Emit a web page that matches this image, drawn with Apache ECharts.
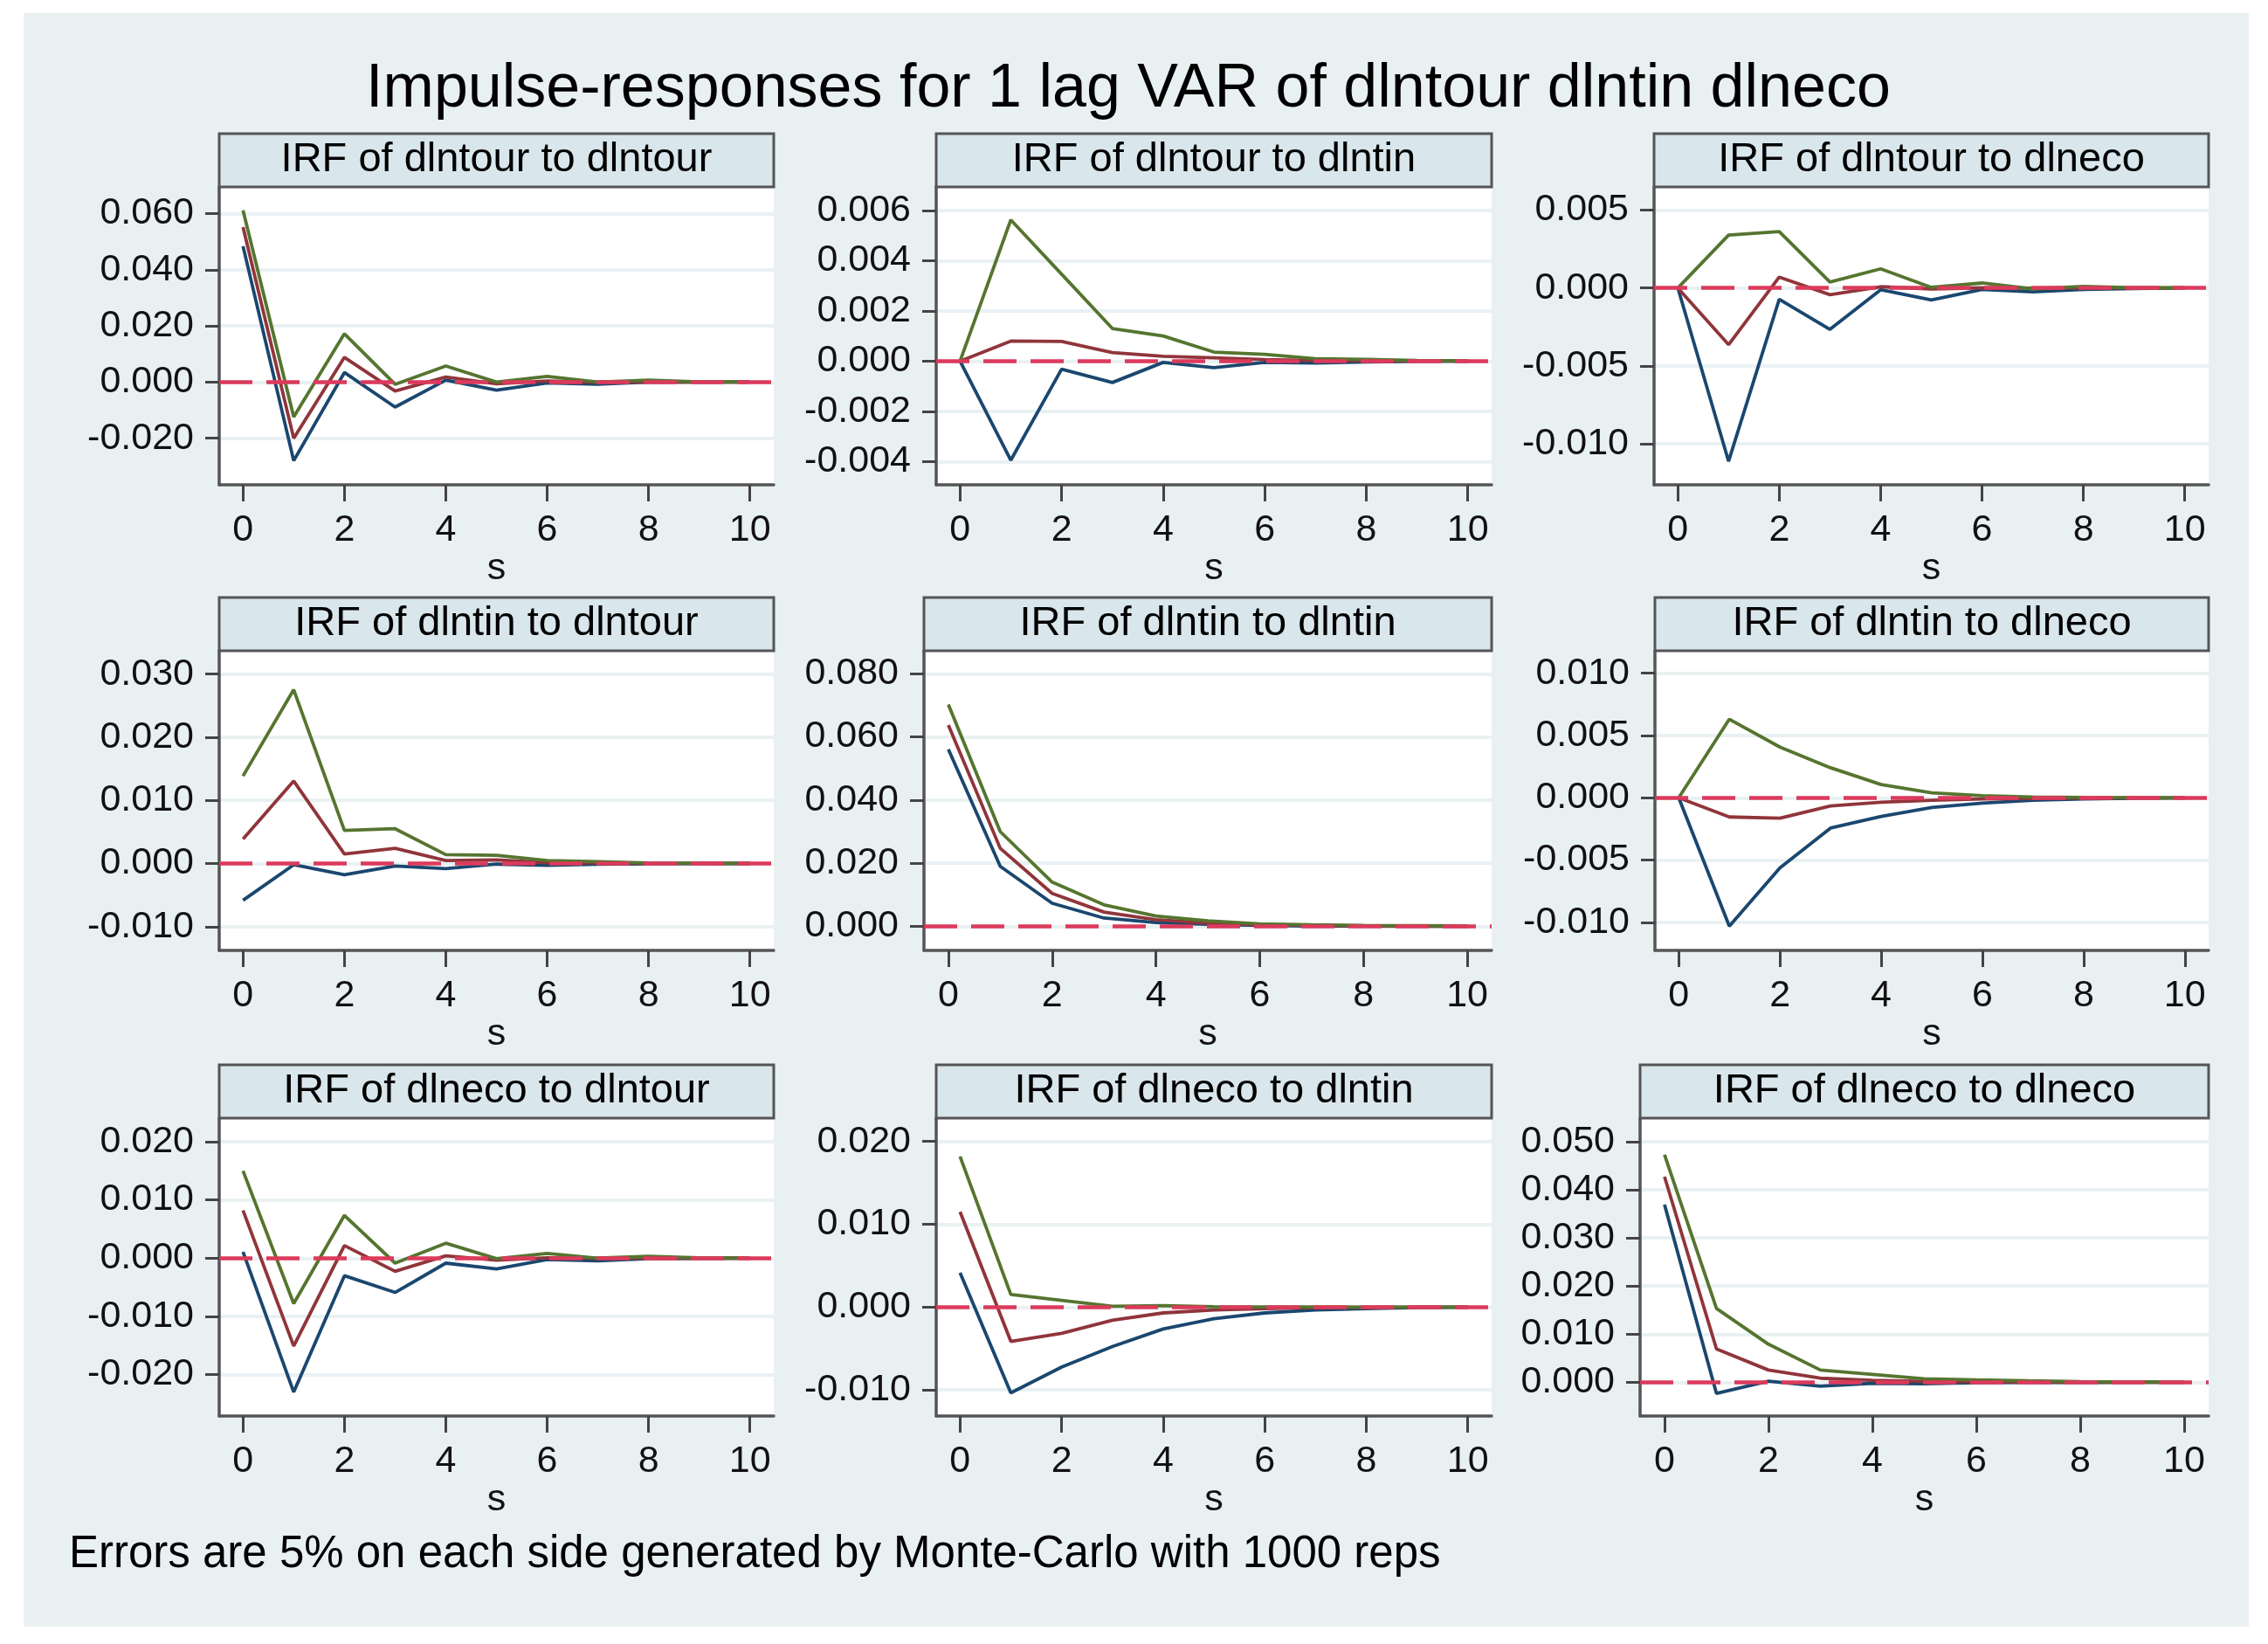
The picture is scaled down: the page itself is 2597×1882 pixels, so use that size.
<!DOCTYPE html>
<html><head><meta charset="utf-8">
<script src="https://cdn.jsdelivr.net/npm/echarts@6/dist/echarts.min.js"></script>
<style>html,body{margin:0;padding:0;background:#fff}#c{width:2597px;height:1882px}</style>
</head><body><div id="c"></div>
<script>
// ---------- data ----------
const steps = [0,1,2,3,4,5,6,7,8,9,10];
const xTicks = [0,2,4,6,8,10];
const mainTitle = 'Impulse-responses for 1 lag VAR of dlntour dlntin dlneco';
const footnote = 'Errors are 5% on each side generated by Monte-Carlo with 1000 reps';
const panelTitles = [
  'IRF of dlntour to dlntour','IRF of dlntour to dlntin','IRF of dlntour to dlneco',
  'IRF of dlntin to dlntour','IRF of dlntin to dlntin','IRF of dlntin to dlneco',
  'IRF of dlneco to dlntour','IRF of dlneco to dlntin','IRF of dlneco to dlneco'
];
// y tick labels per panel
const yTicks1 = [-0.02,0,0.02,0.04,0.06];
const yTicks2 = [-0.004,-0.002,0,0.002,0.004,0.006];
const yTicks3 = [-0.01,-0.005,0,0.005];
const yTicks4 = [-0.01,0,0.01,0.02,0.03];
const yTicks5 = [0,0.02,0.04,0.06,0.08];
const yTicks6 = [-0.01,-0.005,0,0.005,0.01];
const yTicks7 = [-0.02,-0.01,0,0.01,0.02];
const yTicks8 = [-0.01,0,0.01,0.02];
const yTicks9 = [0,0.01,0.02,0.03,0.04,0.05];

// lower bound (blue), irf (red), upper bound (green)
const lo1  = [0.0484,-0.0280,0.0034,-0.0089,0.0007,-0.0029,-0.0003,-0.0008,0.0000,0.0000,0.0000];
const irf1 = [0.0552,-0.0200,0.0088,-0.0032,0.0018,-0.0006,0.0004,-0.0001,0.0001,0.0000,0.0000];
const hi1  = [0.0612,-0.0124,0.0172,-0.0008,0.0057,0.0000,0.0020,0.0000,0.0007,0.0001,0.0001];

const lo2  = [0,-0.00394,-0.00032,-0.00085,-0.00005,-0.00026,-0.00005,-0.00008,-0.00003,-0.00001,0];
const irf2 = [0,0.00080,0.00078,0.00034,0.00019,0.00013,0.00006,0.00003,0.00002,0.00001,0];
const hi2  = [0,0.00562,0.00346,0.00130,0.00100,0.00036,0.00027,0.00010,0.00007,0.00003,0.00001];

const lo3  = [0,-0.01113,-0.00072,-0.00266,-0.00011,-0.00077,-0.00010,-0.00025,-0.00010,-0.00004,0];
const irf3 = [0,-0.00364,0.00070,-0.00043,0.00008,-0.00006,0.00001,-0.00001,0,0,0];
const hi3  = [0,0.00340,0.00362,0.00038,0.00123,0.00004,0.00032,-0.00006,0.00010,0.00001,0.00001];

const lo4  = [-0.00583,-0.00020,-0.00177,-0.00040,-0.00080,-0.00010,-0.00030,-0.00010,-0.00005,0,0];
const irf4 = [0.00387,0.01307,0.00150,0.00240,0.00047,0.00056,0.00014,0.00010,0.00003,0.00001,0];
const hi4  = [0.01386,0.02753,0.00523,0.00551,0.00140,0.00130,0.00047,0.00030,0.00010,0.00005,0.00002];

const lo5  = [0.0561,0.0190,0.0073,0.0026,0.0012,0.0006,0.0003,0.0001,0.00005,0.00002,0.00001];
const irf5 = [0.0638,0.0247,0.0104,0.0045,0.0021,0.0010,0.0005,0.00025,0.0001,0.00005,0.00002];
const hi5  = [0.0703,0.0300,0.0140,0.0068,0.00327,0.0017,0.00075,0.0005,0.0003,0.0002,0.0001];

const lo6  = [0,-0.01030,-0.00563,-0.00243,-0.00149,-0.00078,-0.00043,-0.00020,-0.00010,-0.00004,-0.00001];
const irf6 = [0,-0.00154,-0.00163,-0.00066,-0.00035,-0.00020,-0.00010,-0.00005,-0.00002,-0.00001,0];
const hi6  = [0,0.00631,0.00407,0.00241,0.00106,0.00040,0.00017,0.00007,0.00003,0.00001,0];

const lo7  = [0.00106,-0.02300,-0.00302,-0.00589,-0.00086,-0.00186,-0.00025,-0.00045,-0.00010,-0.00005,0];
const irf7 = [0.00820,-0.01510,0.00216,-0.00226,0.00040,-0.00035,0.00005,-0.00003,0.00001,0,0];
const hi7  = [0.01500,-0.00780,0.00735,-0.00086,0.00257,-0.00010,0.00080,0,0.00030,0.00005,0.00002];

const lo8  = [0.00414,-0.01036,-0.00725,-0.00478,-0.00265,-0.00141,-0.00071,-0.00035,-0.00018,-0.00007,-0.00002];
const irf8 = [0.01150,-0.00414,-0.00318,-0.00159,-0.00071,-0.00035,-0.00018,-0.00007,-0.00003,-0.00001,0];
const hi8  = [0.01820,0.00152,0.00081,0.00010,0.00018,0.00005,0.00002,0.00001,0,0,0];

const lo9  = [0.0369,-0.00231,0.00024,-0.0008,-0.0002,-0.0003,-0.0001,-0.00005,-0.00002,-0.00001,0];
const irf9 = [0.0427,0.00693,0.00255,0.00085,0.00043,0.0002,0.0001,0.00005,0.00002,0.00001,0];
const hi9  = [0.04726,0.01533,0.00791,0.00255,0.00164,0.00073,0.0005,0.0003,0.00015,0.0001,0.00005];

// ---------- layout / style ----------
const FONT = '"Liberation Sans", Arial, Helvetica, sans-serif';
const C_LO = '#1a476f', C_IRF = '#90353b', C_HI = '#55752f', C_ZERO = '#dc3a5c';
const colRight = [886, 1708, 2529];
const plotLeft = [[251,1072,1894],[251,1058,1895],[251,1072,1878]];
const rowTop = [214, 745, 1280];
const rowBottom = [555, 1088, 1621];
const headerH = 61;

const panels = [
  {lo:lo1, irf:irf1, hi:hi1, ticks:yTicks1, min:-0.0366, max:0.0695},
  {lo:lo2, irf:irf2, hi:hi2, ticks:yTicks2, min:-0.00492, max:0.00693},
  {lo:lo3, irf:irf3, hi:hi3, ticks:yTicks3, min:-0.01264, max:0.00649},
  {lo:lo4, irf:irf4, hi:hi4, ticks:yTicks4, min:-0.01377, max:0.0337},
  {lo:lo5, irf:irf5, hi:hi5, ticks:yTicks5, min:-0.00765, max:0.0873},
  {lo:lo6, irf:irf6, hi:hi6, ticks:yTicks6, min:-0.01225, max:0.0118},
  {lo:lo7, irf:irf7, hi:hi7, ticks:yTicks7, min:-0.02712, max:0.02405},
  {lo:lo8, irf:irf8, hi:hi8, ticks:yTicks8, min:-0.01316, max:0.02282},
  {lo:lo9, irf:irf9, hi:hi9, ticks:yTicks9, min:-0.0070, max:0.05487}
];

const grids = [], xAxes = [], yAxes = [], series = [], graphics = [];

graphics.push({type:'rect', z:-100, shape:{x:27,y:15,width:2548,height:1847}, style:{fill:'#e9f0f2'}});
graphics.push({type:'text', z:100, x:1292, y:103, style:{text:mainTitle, font:'70px '+FONT, fill:'#000', textAlign:'center', textVerticalAlign:'middle'}});
graphics.push({type:'text', z:100, x:79, y:1780, style:{text:footnote, font:'51px '+FONT, fill:'#000', textAlign:'left', textVerticalAlign:'middle'}});

const pairs = arr => steps.map((s,i)=>[s, arr[i]]);

panels.forEach((p, k) => {
  const r = Math.floor(k/3), c = k%3;
  const L = plotLeft[r][c], R = colRight[c], T = rowTop[r], B = rowBottom[r];
  grids.push({left:L, top:T, width:R-L, height:B-T, show:true, backgroundColor:'#ffffff', borderWidth:0, containLabel:false});
  xAxes.push({
    type:'value', gridIndex:k, min:-0.47, max:10.47,
    axisLine:{show:true, onZero:false, lineStyle:{color:'#555', width:3.5}},
    axisTick:{show:true, length:19, customValues:xTicks, lineStyle:{color:'#444', width:3}},
    axisLabel:{show:true, customValues:xTicks, fontSize:43, fontFamily:FONT, color:'#111', margin:31},
    splitLine:{show:false},
    name:'s', nameLocation:'middle', nameGap:72,
    nameTextStyle:{fontSize:43, fontFamily:FONT, color:'#111'}
  });
  yAxes.push({
    type:'value', gridIndex:k, min:p.min, max:p.max,
    axisLine:{show:true, onZero:false, lineStyle:{color:'#555', width:3.5}},
    axisTick:{show:true, length:16, customValues:p.ticks, lineStyle:{color:'#444', width:3}},
    axisLabel:{show:true, customValues:p.ticks, fontSize:43, fontFamily:FONT, color:'#111', margin:29,
      formatter: v => Number(v).toFixed(3)},
    splitLine:{show:true, lineStyle:{color:'#e9f1f3', width:4}}
  });
  series.push({
    type:'line', xAxisIndex:k, yAxisIndex:k, data:[], silent:true,
    markLine:{silent:true, symbol:['none','none'], label:{show:false},
      lineStyle:{color:C_ZERO, width:4.5, type:[38,16]}, data:[{yAxis:0}]}
  });
  [[p.lo, C_LO], [p.irf, C_IRF], [p.hi, C_HI]].forEach(([arr, col]) => {
    series.push({type:'line', xAxisIndex:k, yAxisIndex:k, data:pairs(arr), showSymbol:false, symbol:'none',
      lineStyle:{color:col, width:3.8}, itemStyle:{color:col}, silent:true});
  });
  graphics.push({type:'rect', z:100, shape:{x:L, y:T-headerH, width:R-L, height:headerH},
    style:{fill:'#d9e6eb', stroke:'#555', lineWidth:3}});
  graphics.push({type:'text', z:101, x:(L+R)/2, y:T-headerH/2, style:{text:panelTitles[k], font:'47px '+FONT, fill:'#000', textAlign:'center', textVerticalAlign:'middle'}});
});

const chart = echarts.init(document.getElementById('c'));
chart.setOption({
  backgroundColor:'#ffffff', animation:false,
  grid:grids, xAxis:xAxes, yAxis:yAxes, series:series, graphic:graphics
});
</script></body></html>
